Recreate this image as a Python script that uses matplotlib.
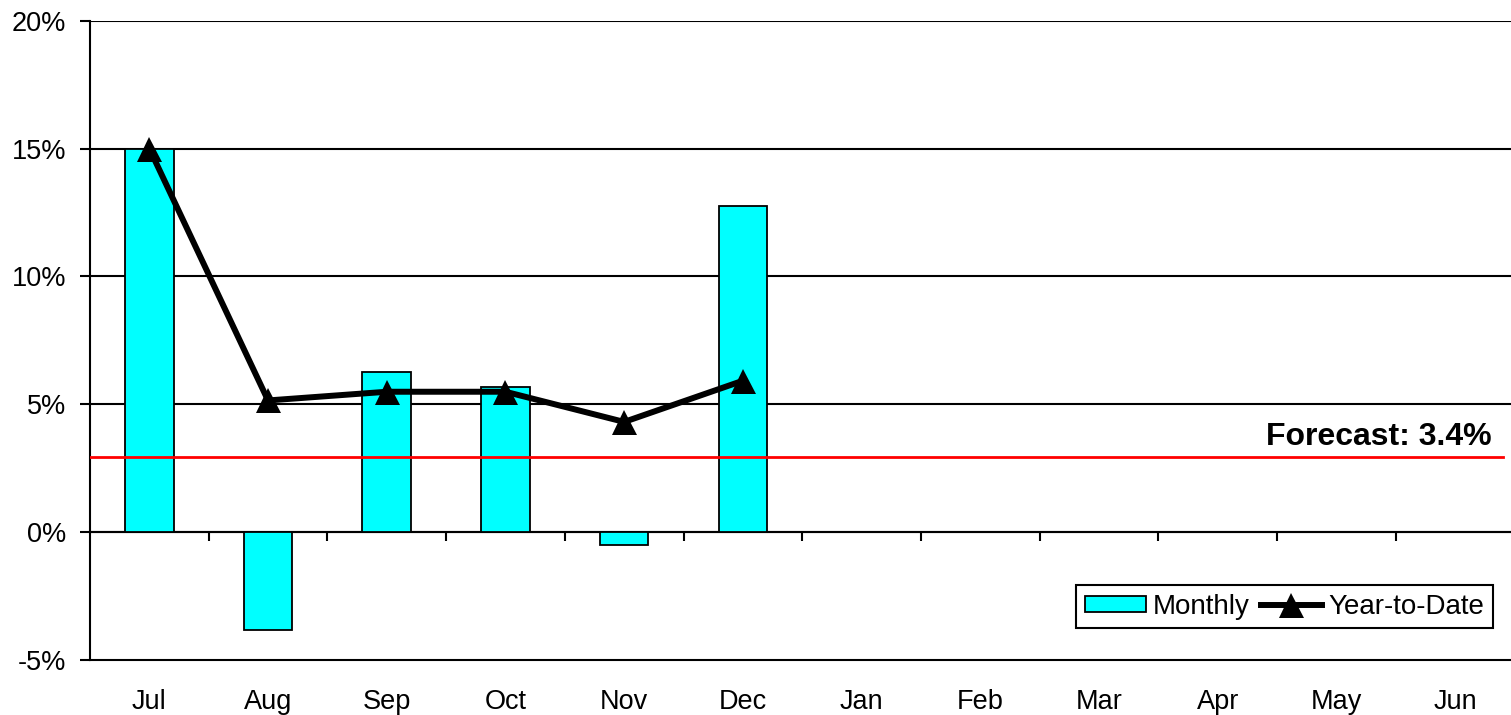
import matplotlib
matplotlib.use("Agg")
import matplotlib.pyplot as plt
import numpy as np

plt.rcParams["font.family"] = ["Liberation Sans", "DejaVu Sans"]

months = ["Jul", "Aug", "Sep", "Oct", "Nov", "Dec",
          "Jan", "Feb", "Mar", "Apr", "May", "Jun"]
monthly = [15.0, -3.82, 6.26, 5.69, -0.52, 12.77]
ytd = [15.0, 5.15, 5.49, 5.49, 4.31, 5.92]
forecast = 2.92
forecast_label = "Forecast: 3.4%"
y_ticks = [-5, 0, 5, 10, 15, 20]

fig = plt.figure(figsize=(15.11, 7.15), dpi=100)
ax = fig.add_axes([90 / 1511, 55 / 715, 1424.4 / 1511, 639.3 / 715])

x_all = np.arange(len(months))
x_data = np.arange(len(monthly))

# gridlines
for t in y_ticks[1:]:
    ax.axhline(t, color="black", linewidth=1.5, zorder=1)

bars = ax.bar(x_data, monthly, width=0.41, color="#00FFFF", edgecolor="black",
              linewidth=1.3, zorder=2, label="Monthly")
ax.plot([-0.5, 11.4], [forecast, forecast], color="red", linewidth=2.0, zorder=3)
line, = ax.plot(x_data, ytd, color="black", linewidth=4.3, marker="^",
                markersize=18, markeredgewidth=0, zorder=4, label="Year-to-Date")

ax.text(11.31, 3.4, forecast_label, ha="right", va="baseline",
        fontsize=23, fontweight="bold")

ax.set_xlim(-0.5, len(months) - 0.5)
ax.set_ylim(-5, 20)
ax.set_yticks(y_ticks)
ax.set_yticklabels([f"{t}%" for t in y_ticks])
ax.set_xticks(x_all)
ax.set_xticklabels(months)
ax.tick_params(axis="x", length=0, pad=21, labelsize=19.5)
ax.tick_params(axis="y", length=7.2, width=1.5, pad=10, labelsize=19.5)

for s in ["top", "right"]:
    ax.spines[s].set_visible(False)
for s in ["left", "bottom"]:
    ax.spines[s].set_linewidth(1.5)

# category axis crossing at 0% with tick marks between months
sec = ax.secondary_xaxis(0.2)
sec.set_xticks(np.arange(0.5, len(months) - 0.5, 1))
sec.tick_params(axis="x", direction="out", length=6.5, width=1.5, labelbottom=False)
sec.spines["bottom"].set_linewidth(1.5)

leg = ax.legend([bars, line], ["Monthly", "Year-to-Date"],
                loc="lower right", bbox_to_anchor=(0.985, 0.05), ncol=2,
                fontsize=20, frameon=True, fancybox=False, framealpha=1,
                edgecolor="black", borderpad=0.3, handlelength=2.2,
                handleheight=0.55, handletextpad=0.25, columnspacing=0.4,
                borderaxespad=0)
leg.get_frame().set_linewidth(1.5)

fig.savefig("out.png", dpi=100)
